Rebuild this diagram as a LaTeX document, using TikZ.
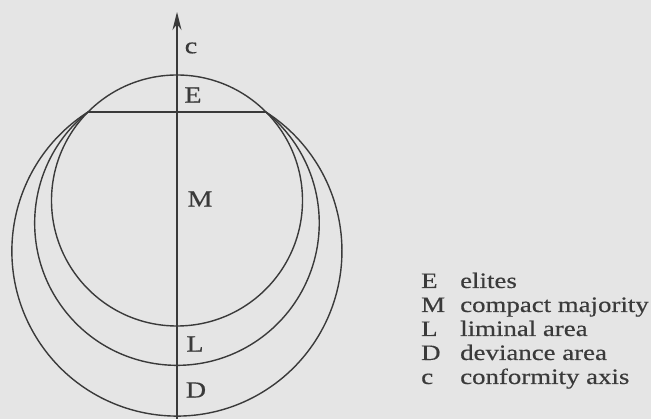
\documentclass[tikz,border=0pt]{standalone}
\usepackage{fontspec}
\setmainfont{Liberation Serif}[FakeStretch=1.22,FakeBold=0.4]
\usetikzlibrary{arrows.meta}
\definecolor{bgcol}{RGB}{229,229,229}
\definecolor{inkcol}{RGB}{58,58,58}
\begin{document}
\begin{tikzpicture}[x=1pt,y=1pt,
  ink/.style={draw=inkcol, line width=1.4pt},
  lab/.style={text=inkcol, font=\fontsize{23}{27}\selectfont, inner sep=0},
  leg/.style={text=inkcol, font=\fontsize{22}{26}\selectfont, inner sep=0, anchor=base west}]
\fill[bgcol] (0,0) rectangle (651,419);
\useasboundingbox (0,0) rectangle (651,419);
% inner circle (E + M)
\coordinate (O) at (177,218.5);
\draw[ink] (O) circle (125.5);
% chord
\coordinate (A) at (88,307);
\coordinate (B) at (266,307);
\draw[ink] (A) -- (B);
% liminal and deviance arcs
\draw[ink] (A) arc[start angle=128.7, end angle=411.3, radius=142.3];
\draw[ink] (A) arc[start angle=122.6, end angle=417.4, radius=165.05];
% conformity axis
\coordinate (bot) at (177,0);
\coordinate (top) at (177,407);
\draw[ink, -{Stealth[length=18pt,width=9pt]}] (bot) -- (top);
% axis labels
\node[lab] (lc) at (191,371) {c};
\node[lab] (lE) at (193,324) {E};
\node[lab] (lM) at (200,220) {M};
\node[lab] (lL) at (195,75) {L};
\node[lab] (lD) at (196,29) {D};
% legend
\node[leg] (k1) at (421,131) {E};
\node[leg] (t1) at (460,131) {elites};
\node[leg] (k2) at (421,107) {M};
\node[leg] (t2) at (460,107) {compact majority};
\node[leg] (k3) at (421,83) {L};
\node[leg] (t3) at (460,83) {liminal area};
\node[leg] (k4) at (421,59) {D};
\node[leg] (t4) at (460,59) {deviance area};
\node[leg] (k5) at (421,35) {c};
\node[leg] (t5) at (460,35) {conformity axis};
\end{tikzpicture}
\end{document}
